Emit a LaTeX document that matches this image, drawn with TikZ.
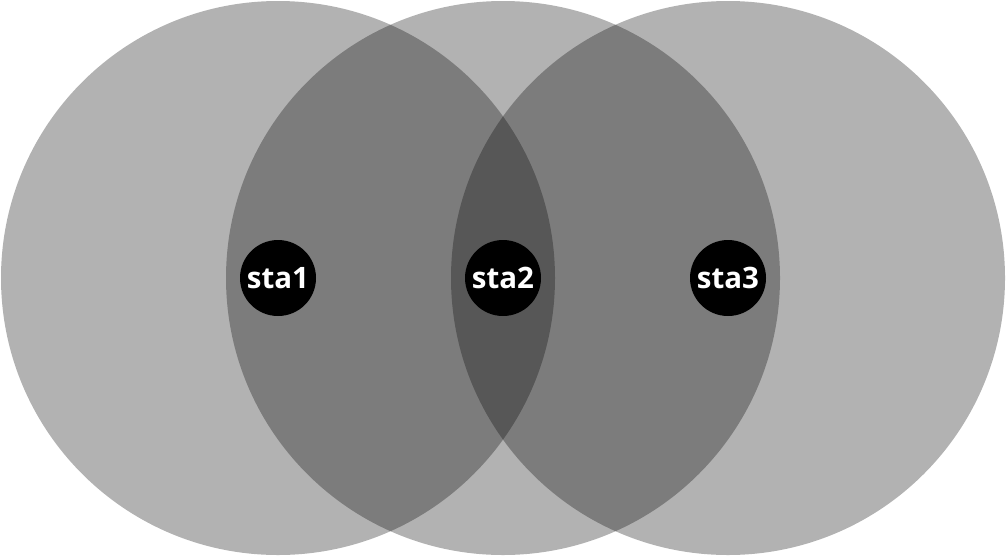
\documentclass[tikz,border=0pt]{standalone}
\usepackage{fontspec}
\setmainfont{Open Sans}
\begin{document}
\begin{tikzpicture}[x=1pt,y=-1pt,
    coverage/.style={fill=black,fill opacity=0.3},
    station/.style={circle,fill=black,text=white,minimum size=76pt,inner sep=0pt,
        font=\fontsize{29.5}{32}\selectfont\bfseries}]
    \useasboundingbox (0,0) rectangle (1008,557);
    % coverage areas
    \foreach \x in {278,503,728} {\fill[coverage] (\x,278) circle (277);}
    % stations
    \foreach \x/\name in {278/sta1,503/sta2,728/sta3} {
        \node[station] (\name) at (\x,278) {\name};
    }
\end{tikzpicture}
\end{document}
